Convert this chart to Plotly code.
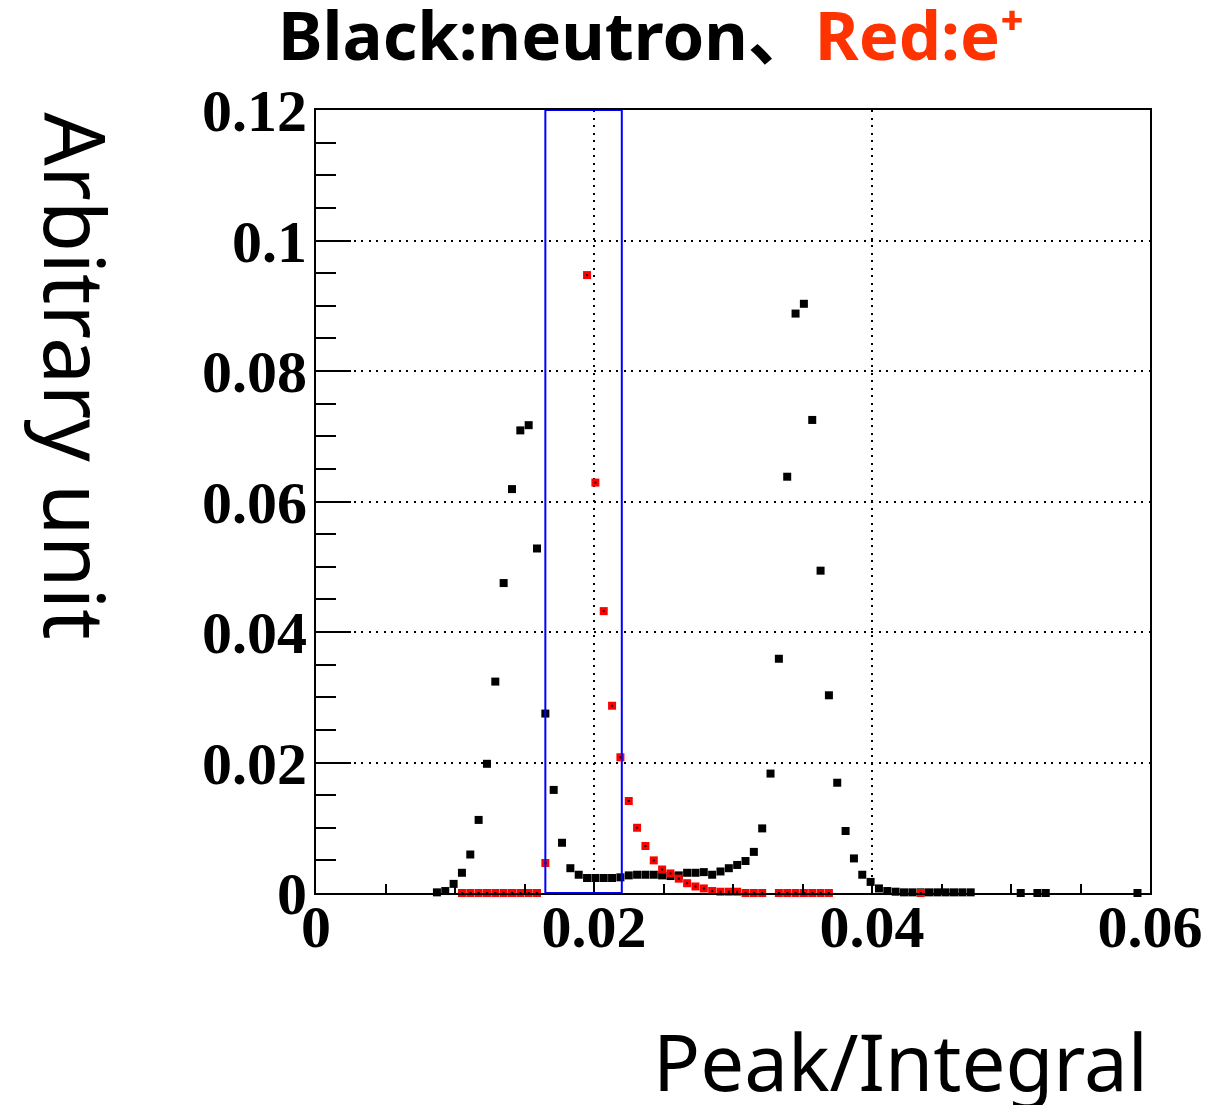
import plotly.graph_objects as go

# Histogram bin centres (bin width 0.0006) and normalised contents
neutron_x = [0.0087, 0.0093, 0.0099, 0.0105, 0.0111, 0.0117, 0.0123, 0.0129,
             0.0135, 0.0141, 0.0147, 0.0153, 0.0159, 0.0165, 0.0171, 0.0177,
             0.0183, 0.0189, 0.0195, 0.0201, 0.0207, 0.0213, 0.0219, 0.0225,
             0.0231, 0.0237, 0.0243, 0.0249, 0.0255, 0.0261, 0.0267, 0.0273,
             0.0279, 0.0285, 0.0291, 0.0297, 0.0303, 0.0309, 0.0315, 0.0321,
             0.0327, 0.0333, 0.0339, 0.0345, 0.0351, 0.0357, 0.0363, 0.0369,
             0.0375, 0.0381, 0.0387, 0.0393, 0.0399, 0.0405, 0.0411, 0.0417,
             0.0423, 0.0429, 0.0435, 0.0441, 0.0447, 0.0453, 0.0459, 0.0465,
             0.0471, 0.0507, 0.0519, 0.0525, 0.0591]
neutron_y = [0.0001, 0.0003, 0.0014, 0.0031, 0.0059, 0.0112, 0.0198, 0.0324,
             0.0475, 0.0619, 0.0709, 0.0717, 0.0528, 0.0275, 0.0158, 0.0077,
             0.0038, 0.0028, 0.0023, 0.0023, 0.0023, 0.0023, 0.0024, 0.0027,
             0.0028, 0.0028, 0.0028, 0.0027, 0.0026, 0.0027, 0.0031, 0.0031,
             0.0032, 0.0028, 0.0033, 0.0038, 0.0043, 0.0049, 0.0063, 0.0099,
             0.0183, 0.0359, 0.0638, 0.0888, 0.0903, 0.0725, 0.0494, 0.0303,
             0.0169, 0.0095, 0.0053, 0.0028, 0.0017, 0.0007, 0.0003, 0.0002,
             0.0001, 0.0001, 0.0001, 0.0001, 0.0001, 0.0001, 0.0001, 0.0001,
             0.0001, 0.0, 0.0, 0.0, 0.0]

positron_x = [0.0105, 0.0111, 0.0117, 0.0123, 0.0129, 0.0135, 0.0141, 0.0147,
              0.0153, 0.0159, 0.0165,
              0.0195, 0.0201, 0.0207, 0.0213, 0.0219, 0.0225, 0.0231, 0.0237,
              0.0243, 0.0249, 0.0255, 0.0261, 0.0267, 0.0273, 0.0279, 0.0285,
              0.0291, 0.0297, 0.0303, 0.0309, 0.0315, 0.0321,
              0.0333, 0.0339, 0.0345, 0.0351, 0.0357, 0.0363, 0.0369,
              0.0435]
positron_y = [0.0, 0.0, 0.0, 0.0, 0.0, 0.0, 0.0, 0.0,
              0.0, 0.0, 0.0046,
              0.0947, 0.0629, 0.0432, 0.0287, 0.0208, 0.0141, 0.0100, 0.0072,
              0.0050, 0.0036, 0.0030, 0.0022, 0.0015, 0.0010, 0.0007, 0.0003,
              0.0002, 0.0002, 0.0002, 0.0, 0.0, 0.0,
              0.0, 0.0, 0.0, 0.0, 0.0, 0.0, 0.0,
              0.0]

# Selection window on Peak/Integral
window_x = [0.0165, 0.022]
window_y = [0.0, 0.12]

x_range = [0, 0.06]
y_range = [0, 0.12]

fig = go.Figure()

fig.add_trace(go.Scatter(
    x=neutron_x, y=neutron_y, mode="markers", name="neutron",
    marker=dict(symbol="square", size=8, color="black", line=dict(width=0)),
    cliponaxis=False, showlegend=False,
))
fig.add_trace(go.Scatter(
    x=positron_x, y=positron_y, mode="markers", name="e+",
    marker=dict(symbol="square", size=8, color="#ff0000", line=dict(width=0)),
    cliponaxis=False, showlegend=False,
))
fig.add_trace(go.Scatter(
    x=positron_x, y=positron_y, mode="markers", hoverinfo="skip",
    marker=dict(symbol="square", size=2, color="black", line=dict(width=0)),
    cliponaxis=False, showlegend=False,
))

fig.add_shape(type="rect", xref="x", yref="y",
              x0=window_x[0], x1=window_x[1], y0=window_y[0], y1=window_y[1],
              line=dict(color="#0000ff", width=2), layer="above")

tick_font = dict(family="Liberation Serif", size=60, color="black", weight="bold")
grid_dash = "2px,5.5px"

fig.update_xaxes(
    range=x_range, tick0=0, dtick=0.02, ticks="inside", ticklen=12,
    tickwidth=2, tickcolor="black", showline=True, linewidth=2,
    linecolor="black", mirror=True, showgrid=True, gridcolor="black",
    gridwidth=2, griddash=grid_dash, zeroline=False, tickfont=tick_font,
    ticklabelstandoff=-20,
    minor=dict(dtick=0.005, ticks="inside", ticklen=9, tickwidth=2,
               tickcolor="black", showgrid=False),
)
fig.update_yaxes(
    range=y_range, tick0=0, dtick=0.02, ticks="inside", ticklen=35,
    tickwidth=2, tickcolor="black", showline=True, linewidth=2,
    linecolor="black", mirror=True, showgrid=True, gridcolor="black",
    gridwidth=2, griddash=grid_dash, zeroline=False, tickfont=tick_font,
    ticklabelstandoff=-5,
    minor=dict(dtick=0.005, ticks="inside", ticklen=20, tickwidth=2,
               tickcolor="black", showgrid=False),
)

sans = "Noto Sans, Noto Sans CJK JP"

fig.add_annotation(
    text="Black:neutron、<span style='color:#ff3300'>Red:e⁺</span>",
    xref="paper", yref="paper", x=0.402, y=1.097,
    xanchor="center", yanchor="middle", showarrow=False,
    font=dict(family=sans, size=67, color="black", weight="bold"),
)
fig.add_annotation(
    text="Arbitrary unit", textangle=90,
    xref="paper", yref="paper", x=-0.2866, y=0.66,
    xanchor="center", yanchor="middle", showarrow=False,
    font=dict(family=sans, size=84, color="black"),
)
fig.add_annotation(
    text="Peak/Integral",
    xref="paper", yref="paper", x=0.7014, y=-0.214,
    xanchor="center", yanchor="middle", showarrow=False,
    font=dict(family=sans, size=78, color="black"),
)

fig.update_layout(
    width=1232, height=1105,
    margin=dict(l=316, r=82, t=110, b=212),
    paper_bgcolor="white", plot_bgcolor="white",
    showlegend=False,
)

fig.write_html("out.html")
